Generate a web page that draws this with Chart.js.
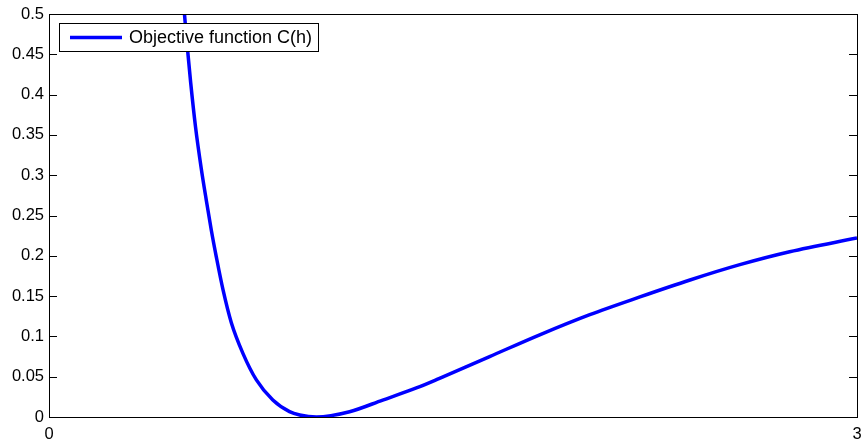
<!DOCTYPE html>
<html>
<head>
<meta charset="utf-8">
<script src="https://cdn.jsdelivr.net/npm/chart.js@4/dist/chart.umd.min.js"></script>
<style>
  html, body { margin: 0; padding: 0; background: #fff; }
  #wrap { width: 862px; height: 440px; }
</style>
</head>
<body>
<div id="wrap"><canvas id="chart"></canvas></div>
<script>
// values
const seriesLabel = 'Objective function C(h)';
const hValues = [0.49, 0.503, 0.511, 0.526, 0.544, 0.565, 0.584, 0.603, 0.621, 0.646, 0.677, 0.72,
                 0.77, 0.831, 0.893, 0.931, 0.993, 1.116, 1.239, 1.364, 1.45, 1.636, 1.822, 2.008,
                 2.194, 2.38, 2.565, 2.75, 3.0];
const cValues = [0.56, 0.5, 0.468, 0.415, 0.36, 0.309, 0.269, 0.231, 0.199, 0.158, 0.117, 0.079,
                 0.046, 0.021, 0.0066, 0.0025, 0.0, 0.0066, 0.021, 0.036, 0.048, 0.075, 0.102, 0.127,
                 0.149, 0.17, 0.189, 0.205, 0.222];
const xTicks = [0, 3];
const yTicks = [0, 0.05, 0.1, 0.15, 0.2, 0.25, 0.3, 0.35, 0.4, 0.45, 0.5];
const yTickLabels = ['0', '0.05', '0.1', '0.15', '0.2', '0.25', '0.3', '0.35', '0.4', '0.45', '0.5'];

const FONT = '"Liberation Sans", Arial, Helvetica, sans-serif';

// box around the plot, inside ticks and the legend, matlab style
const framePlugin = {
    id: 'frame',
    afterDatasetsDraw(chart) {
        const ctx = chart.ctx;
        const a = chart.chartArea;
        const xs = chart.scales.x, ys = chart.scales.y;
        ctx.save();
        ctx.strokeStyle = '#000';
        ctx.lineWidth = 1;
        ctx.beginPath();
        yTicks.forEach(v => {
            const y = Math.round(ys.getPixelForValue(v)) + 0.5;
            ctx.moveTo(a.left, y); ctx.lineTo(a.left + 8, y);
            ctx.moveTo(a.right, y); ctx.lineTo(a.right - 8, y);
        });
        xTicks.forEach(v => {
            const x = Math.round(xs.getPixelForValue(v)) + 0.5;
            ctx.moveTo(x, a.bottom); ctx.lineTo(x, a.bottom - 8);
            ctx.moveTo(x, a.top); ctx.lineTo(x, a.top + 8);
        });
        ctx.stroke();
        ctx.strokeRect(Math.round(a.left) + 0.5, Math.round(a.top) + 0.5,
                       Math.round(a.right - a.left), Math.round(a.bottom - a.top));

        // legend box
        const lx = 59.5, ly = 23.5, lw = 259, lh = 28;
        ctx.fillStyle = '#fff';
        ctx.fillRect(lx, ly, lw, lh);
        ctx.strokeRect(lx, ly, lw, lh);
        ctx.strokeStyle = '#0000ff';
        ctx.lineWidth = 3.5;
        ctx.beginPath();
        ctx.moveTo(70, ly + lh / 2); ctx.lineTo(122, ly + lh / 2);
        ctx.stroke();
        ctx.fillStyle = '#000';
        ctx.font = '18px ' + FONT;
        ctx.textBaseline = 'middle';
        ctx.fillText(seriesLabel, 129, ly + lh / 2 + 1);
        ctx.restore();
    }
};

new Chart(document.getElementById('chart'), {
    type: 'line',
    data: {
        datasets: [{
            label: seriesLabel,
            data: hValues.map((h, i) => ({ x: h, y: cValues[i] })),
            borderColor: '#0000ff',
            borderWidth: 3.5,
            pointRadius: 0,
            cubicInterpolationMode: 'monotone',
            fill: false,
            clip: 0
        }]
    },
    options: {
        responsive: true,
        maintainAspectRatio: false,
        animation: false,
        layout: { padding: { top: 14, right: 5, left: 0, bottom: 0 } },
        plugins: { legend: { display: false }, tooltip: { enabled: false } },
        scales: {
            x: {
                type: 'linear',
                min: 0,
                max: 3,
                grid: { display: false, drawTicks: false },
                border: { display: false },
                afterBuildTicks: (scale) => { scale.ticks = xTicks.map(v => ({ value: v })); },
                afterFit: (scale) => {
                    scale.height = 23;
                    scale.paddingLeft = 0;
                    scale.paddingRight = 0;
                },
                ticks: {
                    color: '#000',
                    padding: 8,
                    maxRotation: 0,
                    autoSkip: false,
                    font: { family: FONT, size: 16.5 }
                }
            },
            y: {
                min: 0,
                max: 0.5,
                grid: { display: false, drawTicks: false },
                border: { display: false },
                afterBuildTicks: (scale) => { scale.ticks = yTicks.map(v => ({ value: v })); },
                afterFit: (scale) => {
                    scale.width = 49;
                    scale.paddingTop = 0;
                    scale.paddingBottom = 0;
                },
                ticks: {
                    color: '#000',
                    padding: 5,
                    autoSkip: false,
                    font: { family: FONT, size: 16.5 },
                    callback: (value, i) => yTickLabels[i]
                }
            }
        }
    },
    plugins: [framePlugin]
});
</script>
</body>
</html>
